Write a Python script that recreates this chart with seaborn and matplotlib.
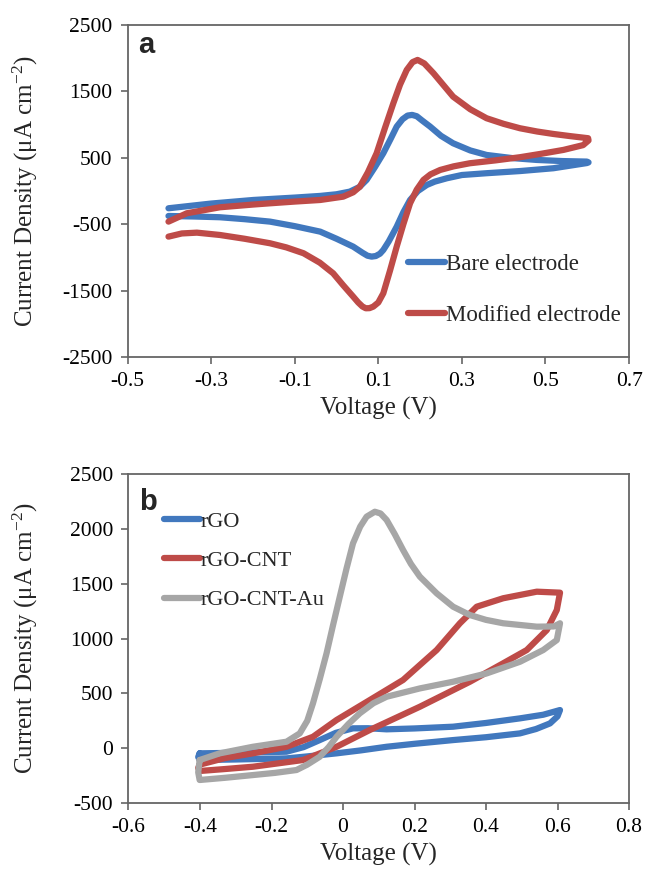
import numpy as np
import pandas as pd
import matplotlib
matplotlib.use("Agg")
import matplotlib.pyplot as plt
from matplotlib.lines import Line2D
import seaborn as sns

# ---------------- Panel a data (Voltage V, Current density uA/cm2) ----------------
bare_v = [-0.402, -0.30, -0.199, -0.10, -0.039, 0.0, 0.032, 0.055, 0.072, 0.092, 0.112, 0.130,
          0.144, 0.158, 0.170, 0.181, 0.192, 0.205, 0.224, 0.250, 0.279, 0.320, 0.359, 0.420,
          0.479, 0.540, 0.599,
          0.603, 0.599, 0.519, 0.440, 0.359, 0.300, 0.264, 0.235, 0.216, 0.195, 0.176, 0.160,
          0.144, 0.125, 0.112, 0.104, 0.094, 0.084, 0.074, 0.062, 0.040, 0.0, -0.039, -0.10,
          -0.159, -0.220, -0.279, -0.340, -0.402]
bare_j = [-261, -190, -136, -100, -75, -50, -10, 60, 166, 360, 568, 790,
          969, 1080, 1135, 1145, 1125, 1060, 969, 830, 718, 610, 542, 495,
          467, 450, 442,
          430, 420, 342, 300, 267, 240, 191, 140, 90, 0, -136, -320,
          -538, -760, -889, -945, -980, -989, -975, -930, -839, -720, -613, -530,
          -462, -425, -396, -385, -377]

mod_v = [-0.402, -0.358, -0.279, -0.20, -0.159, -0.10, -0.039, 0.016, 0.040, 0.056, 0.075, 0.096,
         0.116, 0.136, 0.152, 0.168, 0.182, 0.194, 0.210, 0.232, 0.255, 0.279, 0.320, 0.359,
         0.400, 0.439, 0.480, 0.519, 0.560, 0.602,
         0.603, 0.590, 0.543, 0.490, 0.439, 0.380, 0.319, 0.280, 0.248, 0.225, 0.208, 0.192,
         0.176, 0.160, 0.144, 0.128, 0.112, 0.100, 0.088, 0.079, 0.070, 0.062, 0.052, 0.040,
         0.016, -0.008, -0.040, -0.079, -0.120, -0.159, -0.220, -0.279, -0.334, -0.370, -0.402]
mod_j = [-462, -336, -246, -205, -186, -160, -136, -86, -20, 65, 280, 568,
         950, 1321, 1600, 1822, 1940, 1973, 1920, 1773, 1600, 1420, 1230, 1095,
         1010, 944, 895, 858, 825, 794,
         760, 690, 618, 560, 508, 460, 417, 370, 316, 250, 166, 20,
         -186, -500, -839, -1200, -1541, -1680, -1742, -1765, -1767, -1740, -1680, -1592,
         -1420, -1240, -1080, -938, -850, -788, -720, -663, -628, -640, -688]

# ---------------- Panel b data ----------------
rgo_v = [-0.401, -0.30, -0.158, -0.110, -0.065, -0.020, 0.028, 0.070, 0.122, 0.200, 0.308, 0.400,
         0.495, 0.560, 0.607,
         0.600, 0.579, 0.540, 0.495, 0.400, 0.308, 0.200, 0.122, 0.050, -0.018, -0.100, -0.158,
         -0.300, -0.401, -0.405, -0.401]
rgo_j = [-47, -42, -32, 10, 74, 140, 181, 182, 172, 180, 196, 230,
         272, 305, 348,
         290, 226, 175, 135, 100, 74, 40, 13, -20, -47, -75, -93,
         -103, -108, -80, -47]

cnt_v = [-0.401, -0.330, -0.252, -0.158, -0.084, -0.018, 0.075, 0.168, 0.262, 0.327, 0.374,
         0.448, 0.542, 0.607,
         0.598, 0.570, 0.514, 0.448, 0.355, 0.215, 0.075, -0.018, -0.112, -0.252, -0.330, -0.401,
         -0.405, -0.401]
cnt_j = [-150, -90, -47, 13, 104, 257, 439, 622, 895, 1139, 1290,
         1367, 1427, 1418,
         1260, 1077, 895, 774, 606, 378, 166, 13, -108, -169, -190, -208,
         -180, -150]

au_v = [-0.401, -0.345, -0.252, -0.158, -0.121, -0.100, -0.084, -0.065, -0.046, -0.028, -0.009,
        0.010, 0.028, 0.048, 0.066, 0.089, 0.105, 0.122, 0.145, 0.168, 0.190, 0.215, 0.262, 0.308,
        0.355, 0.400, 0.448, 0.542, 0.590, 0.607,
        0.598, 0.560, 0.495, 0.402, 0.308, 0.215, 0.122, 0.085, 0.047, 0.015, -0.018, -0.040,
        -0.065, -0.100, -0.130, -0.190, -0.252, -0.330, -0.401, -0.405, -0.401]
au_j = [-108, -47, 13, 59, 135, 250, 409, 630, 865, 1120, 1381,
        1640, 1868, 2020, 2111, 2156, 2140, 2081, 1950, 1807, 1680, 1564, 1412, 1290,
        1214, 1170, 1139, 1108, 1110, 1139,
        986, 895, 788, 682, 606, 545, 469, 410, 318, 220, 104, 10,
        -78, -150, -199, -225, -245, -270, -290, -220, -108]

colors = {"blue": "#4178BE", "red": "#BE4B48", "grey": "#A6A6A6"}

sns.set_theme(style="ticks")
plt.rcParams["font.family"] = ["Liberation Serif", "DejaVu Serif"]
plt.rcParams["mathtext.fontset"] = "custom"
plt.rcParams["mathtext.rm"] = "Liberation Serif"
plt.rcParams["mathtext.it"] = "Liberation Serif:italic"
plt.rcParams["axes.unicode_minus"] = False

fig = plt.figure(figsize=(6.48, 8.84), dpi=100)
ax1 = fig.add_axes([0.1968, 0.5962, 0.774, 0.3756])
ax2 = fig.add_axes([0.1983, 0.0916, 0.7724, 0.3722])

spine_c = "#666666"
lw = 4.5


def loop_df(v, j, name):
    return pd.DataFrame({"V": v, "J": j, "series": name, "order": np.arange(len(v))})


def style_axes(ax):
    for s in ax.spines.values():
        s.set_color(spine_c)
        s.set_linewidth(1.3)
    ax.tick_params(direction="out", length=5, width=1.2, color=spine_c,
                   labelsize=15.5, labelcolor="black", pad=6)


# Panel a
df_a = pd.concat([loop_df(bare_v, bare_j, "Bare electrode"),
                  loop_df(mod_v, mod_j, "Modified electrode")])
sns.lineplot(data=df_a, x="V", y="J", hue="series", units="series", estimator=None,
             sort=False, palette=[colors["blue"], colors["red"]], linewidth=lw,
             ax=ax1, legend=False)
for ln in ax1.lines:
    ln.set_solid_capstyle("round")
    ln.set_solid_joinstyle("round")
ax1.set_xlim(-0.5, 0.7)
ax1.set_ylim(-2500, 2500)
ax1.set_xticks([-0.5, -0.3, -0.1, 0.1, 0.3, 0.5, 0.7])
ax1.set_xticklabels(["-0.5", "-0.3", "-0.1", "0.1", "0.3", "0.5", "0.7"])
ax1.set_yticks([-2500, -1500, -500, 500, 1500, 2500])
style_axes(ax1)
ax1.set_xlabel("Voltage (V)", fontsize=18, labelpad=4)
ax1.set_ylabel(r"Current Density (μA cm$^{\mathregular{-2}}$)", fontsize=18)
ax1.yaxis.set_label_coords(-0.175, 0.5)
ax1.text(0.022, 0.94, "a", transform=ax1.transAxes, fontsize=21, fontweight="bold",
         family="Liberation Sans", va="center", ha="left")
h1 = [Line2D([0], [0], color=colors["blue"], lw=lw, solid_capstyle="round"),
      Line2D([0], [0], color=colors["red"], lw=lw, solid_capstyle="round")]
ax1.legend(h1, ["Bare electrode", "Modified electrode"], loc="upper left",
           bbox_to_anchor=(408 / 648, 1 - 254 / 884), bbox_transform=fig.transFigure,
           frameon=False, fontsize=16.5, handlelength=1.6, handletextpad=0.05,
           labelspacing=1.3, borderpad=0, borderaxespad=0)

# Panel b
df_b = pd.concat([loop_df(rgo_v, rgo_j, "rGO"),
                  loop_df(cnt_v, cnt_j, "rGO-CNT"),
                  loop_df(au_v, au_j, "rGO-CNT-Au")])
sns.lineplot(data=df_b, x="V", y="J", hue="series", units="series", estimator=None,
             sort=False, palette=[colors["blue"], colors["red"], colors["grey"]],
             linewidth=lw, ax=ax2, legend=False)
for ln in ax2.lines:
    ln.set_solid_capstyle("round")
    ln.set_solid_joinstyle("round")
ax2.set_xlim(-0.6, 0.8)
ax2.set_ylim(-500, 2500)
ax2.set_xticks([-0.6, -0.4, -0.2, 0, 0.2, 0.4, 0.6, 0.8])
ax2.set_xticklabels(["-0.6", "-0.4", "-0.2", "0", "0.2", "0.4", "0.6", "0.8"])
ax2.set_yticks([-500, 0, 500, 1000, 1500, 2000, 2500])
style_axes(ax2)
ax2.set_xlabel("Voltage (V)", fontsize=18, labelpad=4)
ax2.set_ylabel(r"Current Density (μA cm$^{\mathregular{-2}}$)", fontsize=18)
ax2.yaxis.set_label_coords(-0.177, 0.5)
ax2.text(0.022, 0.915, "b", transform=ax2.transAxes, fontsize=21, fontweight="bold",
         family="Liberation Sans", va="center", ha="left")
h2 = [Line2D([0], [0], color=colors["blue"], lw=lw, solid_capstyle="round"),
      Line2D([0], [0], color=colors["red"], lw=lw, solid_capstyle="round"),
      Line2D([0], [0], color=colors["grey"], lw=lw, solid_capstyle="round")]
ax2.legend(h2, ["rGO", "rGO-CNT", "rGO-CNT-Au"], loc="upper left",
           bbox_to_anchor=(164 / 648, 1 - 511 / 884), bbox_transform=fig.transFigure,
           frameon=False, fontsize=16, handlelength=1.6, handletextpad=0.05,
           labelspacing=0.85, borderpad=0, borderaxespad=0)

fig.savefig("out.png", dpi=100)
